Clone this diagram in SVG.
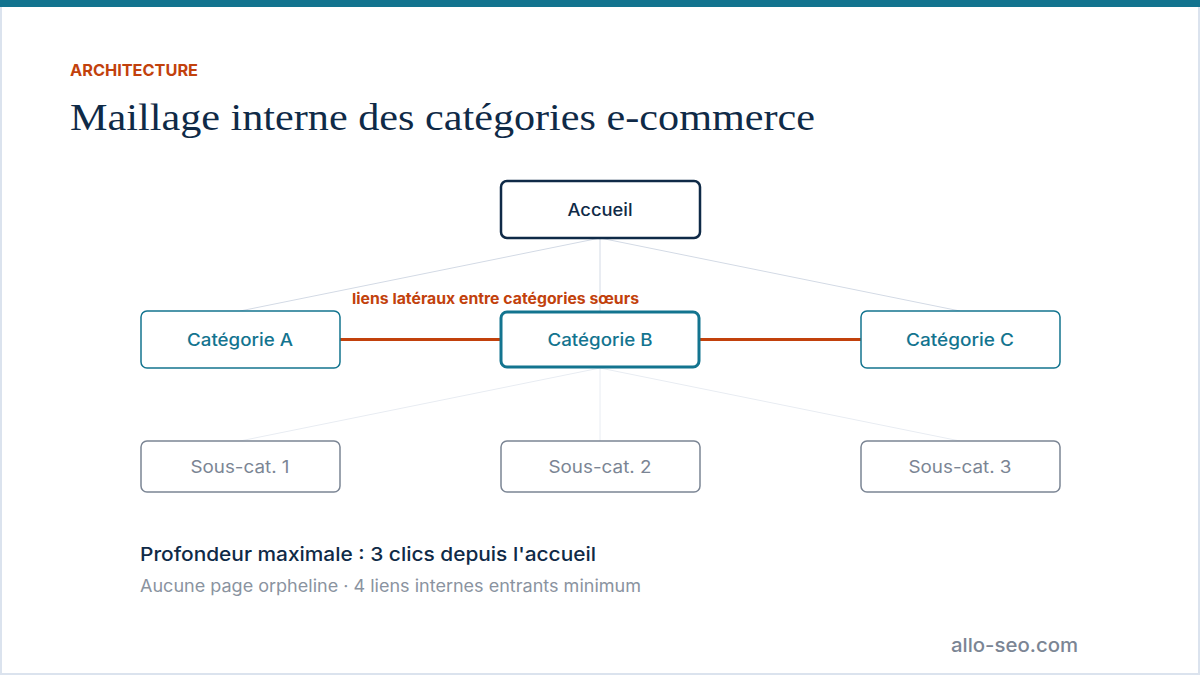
<svg xmlns="http://www.w3.org/2000/svg" width="1200" height="675" viewBox="0 0 1200 675">
<style>
.sans{font-family:Inter,"Noto Sans","Liberation Sans",sans-serif}
.node rect{fill:#ffffff}
.lbl{font-size:17px;text-anchor:middle;dominant-baseline:central}
.top rect{stroke:#0f2a47;stroke-width:2.5}
.top text{fill:#0f2a47;font-weight:500}
.cat rect{stroke:#13748f;stroke-width:1.5}
.cat text{fill:#13748f;font-weight:500}
.sub rect{stroke:#7b8594;stroke-width:1.5}
.sub text{fill:#7b8594}
</style>
<rect x="1" y="1" width="1198" height="673" fill="#ffffff" stroke="#dbe3ee" stroke-width="2"/>
<rect x="0" y="0" width="1200" height="7" fill="#13748f"/>
<text x="70" y="76" class="sans" font-size="16" font-weight="700" fill="#c2410c" textLength="128" lengthAdjust="spacingAndGlyphs">ARCHITECTURE</text>
<text x="70" y="130" font-family="'Liberation Serif',serif" font-size="38" fill="#0f2a47" textLength="745" lengthAdjust="spacingAndGlyphs">Maillage interne des catégories e-commerce</text>
<g id="connectors">
<g stroke="#d3dae5" stroke-width="1" fill="none">
<line x1="600" y1="238" x2="240" y2="311"/>
<line x1="600" y1="238" x2="600" y2="312"/>
<line x1="600" y1="238" x2="960" y2="311"/>
</g>
<g stroke="#e8ecf2" stroke-width="1" fill="none">
<line x1="600" y1="368" x2="240" y2="441"/>
<line x1="600" y1="368" x2="600" y2="441"/>
<line x1="600" y1="368" x2="960" y2="441"/>
</g>
<g stroke="#c2410c" stroke-width="3">
<line x1="340" y1="339.5" x2="501" y2="339.5"/>
<line x1="700" y1="339.5" x2="861" y2="339.5"/>
</g>
<text x="352" y="304" class="sans" font-size="15" font-weight="700" fill="#c2410c" textLength="287" lengthAdjust="spacingAndGlyphs">liens latéraux entre catégories sœurs</text>
</g>
<g id="accueil" class="node top sans"><rect x="501" y="181" width="199" height="57" rx="6"/><text class="lbl" x="600" y="209.5" textLength="65" lengthAdjust="spacingAndGlyphs">Accueil</text></g>
<g id="cat-a" class="node cat sans"><rect x="141" y="311" width="199" height="57" rx="6"/><text class="lbl" x="240" y="339.5" textLength="106" lengthAdjust="spacingAndGlyphs">Catégorie A</text></g>
<g id="cat-b" class="node cat sans"><rect x="501" y="312" width="198" height="55" rx="6" style="stroke-width:3"/><text class="lbl" x="600" y="339.5" textLength="105" lengthAdjust="spacingAndGlyphs">Catégorie B</text></g>
<g id="cat-c" class="node cat sans"><rect x="861" y="311" width="199" height="57" rx="6"/><text class="lbl" x="960" y="339.5" textLength="108" lengthAdjust="spacingAndGlyphs">Catégorie C</text></g>
<g id="sub-1" class="node sub sans"><rect x="141" y="441" width="199" height="51" rx="6"/><text class="lbl" x="240" y="466.5" textLength="99" lengthAdjust="spacingAndGlyphs">Sous-cat. 1</text></g>
<g id="sub-2" class="node sub sans"><rect x="501" y="441" width="199" height="51" rx="6"/><text class="lbl" x="600" y="466.5" textLength="103" lengthAdjust="spacingAndGlyphs">Sous-cat. 2</text></g>
<g id="sub-3" class="node sub sans"><rect x="861" y="441" width="199" height="51" rx="6"/><text class="lbl" x="960" y="466.5" textLength="103" lengthAdjust="spacingAndGlyphs">Sous-cat. 3</text></g>
<text x="140" y="561" class="sans" font-size="19" font-weight="500" fill="#0f2a47" textLength="456" lengthAdjust="spacingAndGlyphs">Profondeur maximale : 3 clics depuis l'accueil</text>
<text x="140" y="592" class="sans" font-size="17" fill="#8a93a0" textLength="501" lengthAdjust="spacingAndGlyphs">Aucune page orpheline · 4 liens internes entrants minimum</text>
<text x="951" y="652" class="sans" font-size="19" font-weight="500" fill="#7b8594" textLength="127" lengthAdjust="spacingAndGlyphs">allo-seo.com</text>
</svg>
